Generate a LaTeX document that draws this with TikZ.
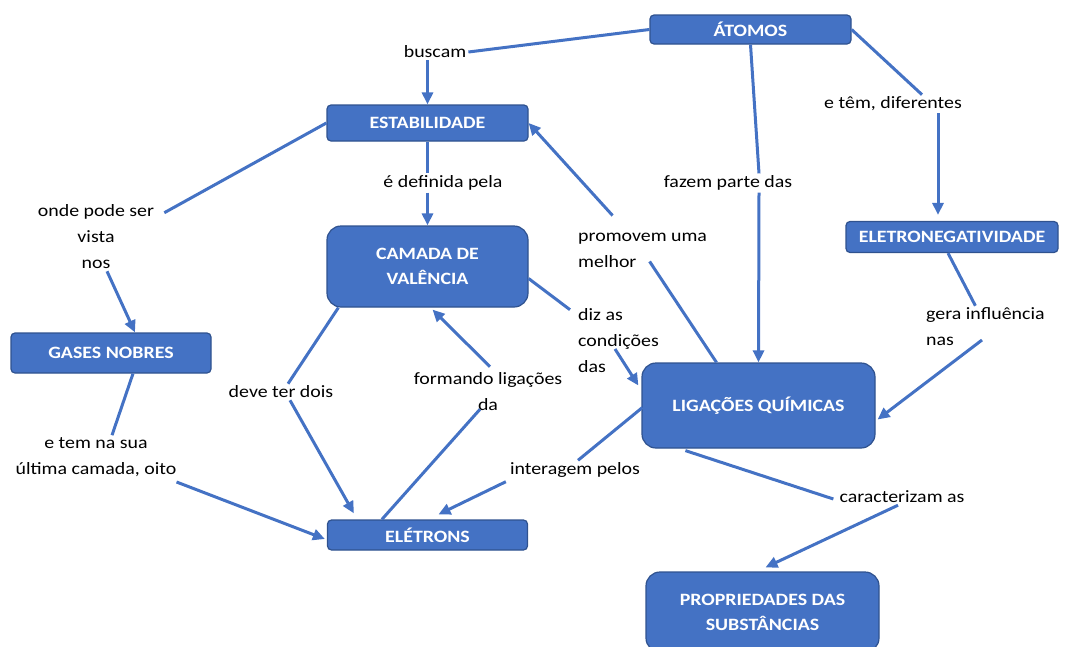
\documentclass[tikz,border=0pt]{standalone}
\usepackage{fontspec}
\setmainfont{Carlito}[FakeStretch=1.15]
\usetikzlibrary{arrows.meta, calc}
\definecolor{mapblue}{HTML}{4472C4}
\definecolor{mapedge}{HTML}{2F528F}

\begin{document}
\begin{tikzpicture}[x=1pt, y=-1pt,
  box/.style={draw=mapedge, fill=mapblue, line width=1.2pt, rounded corners=4pt, text=white,
              align=center, font=\fontsize{17.3}{25}\selectfont\bfseries, inner sep=2pt},
  bigbox/.style={box, rounded corners=14pt},
  lbl/.style={align=center, font=\fontsize{17.3}{26}\selectfont, inner sep=2pt},
  lnk/.style={draw=mapblue, line width=3pt},
  arr/.style={lnk, -{Triangle[length=12pt, width=11pt]}}
]
\useasboundingbox (0,0) rectangle (1071,646);

\node[box, minimum width=201pt, minimum height=29pt] (b1) at (750.5,29.5) {ÁTOMOS};
\node[box, minimum width=201pt, minimum height=36pt] (b2) at (427.5,123) {ESTABILIDADE};
\node[bigbox, minimum width=201pt, minimum height=81pt] (b3) at (427.5,266.5) {CAMADA DE\\VALÊNCIA};
\node[box, minimum width=212pt, minimum height=31pt] (b4) at (952,237) {ELETRONEGATIVIDADE};
\node[box, minimum width=200pt, minimum height=40pt] (b5) at (111,353) {GASES NOBRES};
\node[bigbox, minimum width=233pt, minimum height=85pt] (b6) at (758.5,405.5) {LIGAÇÕES QUÍMICAS};
\node[box, minimum width=200pt, minimum height=30pt] (b7) at (427.5,535) {ELÉTRONS};
\node[bigbox, minimum width=233pt, minimum height=80pt] (b8) at (762.5,612) {PROPRIEDADES DAS\\SUBSTÂNCIAS};

\node[lbl] (t1) at (435,52) {buscam};
\node[lbl] (t2) at (728,183) {fazem parte das};
\node[lbl] (t3) at (893,104) {e têm, diferentes};
\node[lbl] (t4) at (96,237) {onde pode ser\\vista\\nos};
\node[lbl] (t5) at (443,183) {é definida pela};
\node[lbl, align=left, anchor=west] (t6) at (576,250) {promovem uma\\melhor};
\node[lbl, align=left, anchor=west] (t7) at (576,341) {diz as\\condições\\das};
\node[lbl, align=left, anchor=west] (t8) at (924,327) {gera influência\\nas};
\node[lbl] (t9) at (281,392) {deve ter dois};
\node[lbl] (t10) at (488,392) {formando ligações\\da};
\node[lbl] (t11) at (96,457) {e tem na sua\\última camada, oito};
\node[lbl] (t12) at (575,470) {interagem pelos};
\node[lbl] (t13) at (902,497) {caracterizam as};

\draw[lnk] (b1.west) -- (t1.east);
\draw[arr] (t1.south -| b2.north) -- (b2.north);
\draw[lnk] (b1.south) -- ($(t2.north)+(31,0)$);
\draw[arr] ($(t2.south)+(31,0)$) -- (b6.north);
\draw[lnk] (b1.east) -- ($(t3.north)+(29,0)$);
\draw[arr] ($(t3.south)+(45,0)$) -- ($(b4.north)+(-14,-6)$);
\draw[lnk] (b2.west) -- ($(t4.north east)+(8,10)$);
\draw[arr] ($(t4.south)+(11,0)$) -- ($(b5.north)+(24,0)$);
\draw[lnk] (b2.south) -- (t5.north -| b2.south);
\draw[arr] (t5.south -| b3.north) -- (b3.north);
\draw[lnk] ($(b6.north)+(-42,0)$) -- ($(t6.south)+(7,-8)$);
\draw[arr] ($(t6.north)+(-30,-15)$) -- (b2.east);
\draw[lnk] ($(b3.east)+(0,12)$) -- ($(t7.north west)+(-6,3)$);
\draw[arr] ($(t7.west)+(39,8)$) -- ($(b6.west)+(-3,-20)$);
\draw[lnk] ($(b4.south)+(-4,0)$) -- ($(t8.north)+(-10,0)$);
\draw[arr] ($(t8.west)+(58,13)$) -- ($(b6.east)+(2,14)$);
\draw[lnk] ($(b3.south west)+(12,0)$) -- ($(t9.north)+(7,0)$);
\draw[arr] ($(t9.south)+(9,0)$) -- ($(b7.north west)+(27,-6)$);
\draw[lnk] ($(b7.north west)+(55,0)$) -- ($(t10.south)+(-8,-4)$);
\draw[arr] ($(t10.north)+(2,-4)$) -- ($(b3.south)+(5,2)$);
\draw[lnk] ($(b5.south)+(22,0)$) -- ($(t11.north)+(16,0)$);
\draw[arr] ($(t11.east)+(-2,25)$) -- ($(b7.west)+(-2,4)$);
\draw[lnk] ($(b6.west)+(1,2)$) -- ($(t12.north)+(3,0)$);
\draw[arr] ($(t12.south west)+(-2,2)$) -- ($(b7.north)+(11,-5)$);
\draw[lnk] ($(b6.south west)+(44,2)$) -- ($(t13.west)+(-4,2)$);
\draw[arr] ($(t13.south)+(-4,0)$) -- ($(b8.north)+(3,-4)$);
\end{tikzpicture}
\end{document}
